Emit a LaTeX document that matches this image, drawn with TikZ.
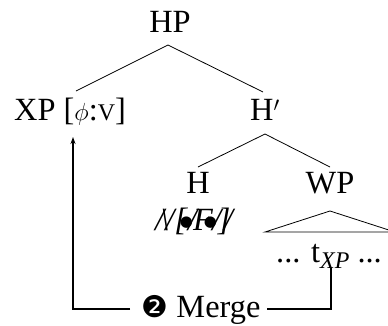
\documentclass[tikz,border=0pt]{standalone}
\usepackage{fontspec}
\setmainfont{Liberation Serif}
\newfontfamily\dejavu{DejaVu Sans}
\usetikzlibrary{arrows.meta}
\newcommand{\bigdot}{\raisebox{4bp}{\dejavu\fontsize{15}{15}\selectfont ●}}
\tikzset{
  lbl/.style={inner sep=0pt, anchor=base, font=\fontsize{32.5}{34}\selectfont},
  branch/.style={line width=0.8bp},
  move/.style={line width=1.5bp},
}
\begin{document}
\begin{tikzpicture}[x=1bp,y=-1bp]
\useasboundingbox (0,0) rectangle (388,326);
\node[lbl] (hp) at (170,32) {HP};
\node[lbl] (xp) at (70,120) {XP [$\phi$:{\fontsize{24}{24}\selectfont V}]};
\node[lbl] (hbar) at (265,120) {H$'$};
\node[lbl] (h) at (198,193) {H};
\node[lbl] (wp) at (330,193) {WP};
\node[lbl] (garb) at (194,230) {\itshape /\kern-.12em\textbackslash\kern-.12em/[\kern-.22em\bigdot\kern-.15em/\kern-.12em F\kern-.28em\bigdot\kern-.15em/\kern-.1em]\kern-.2em/};
\node[lbl] (t) at (329,262) {... t\raisebox{-6bp}{\fontsize{24}{24}\selectfont\itshape XP} ...};
\node[lbl] (merge) at (201,317) {{\dejavu\fontsize{30}{30}\selectfont ❷} Merge};
\coordinate (hpb) at (168,45);
\coordinate (hbb) at (265,134);
\coordinate (tri) at (330,211);
\draw[branch] (hpb) -- (76,91);
\draw[branch] (hpb) -- (263,92);
\draw[branch] (hbb) -- (198,167);
\draw[branch] (hbb) -- (330,167);
\draw[branch] (265,232) -- (tri) -- (395,232) -- cycle;
\coordinate (mr) at (267,309);
\coordinate (ml) at (130,309);
\coordinate (tb) at (331,268);
\coordinate (xpb) at (73,137);
\draw[move] (tb) |- (mr);
\draw[move, -{Stealth[length=7bp,width=5bp]}] (ml) -| (xpb);
\end{tikzpicture}
\end{document}
